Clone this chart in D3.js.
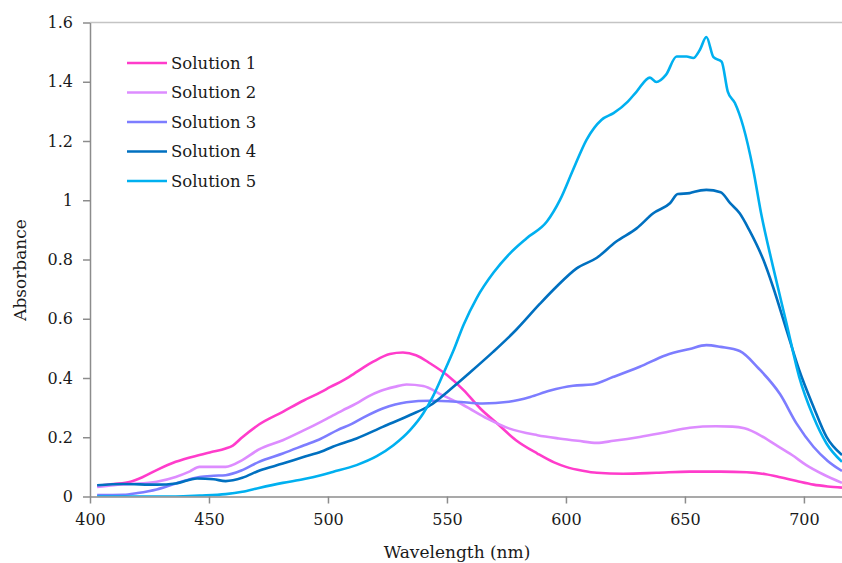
<!DOCTYPE html>
<html lang="en">
<head>
    <meta charset="UTF-8">
    <title>Absorbance spectra</title>
    <script src="https://d3js.org/d3.v7.min.js"></script>
    <style>
        body { margin: 0; background: #fff; }
        svg { display: block; font-family: "DejaVu Serif", serif; }
        .axis text { font-size: 16px; fill: #1a1a1a; font-family: "DejaVu Serif", serif; }
        .axis path, .axis line { stroke: #8c8c8c; stroke-width: 1.5px; }
        .label { font-size: 17px; fill: #1a1a1a; }
        .legend text { font-size: 16.5px; fill: #1a1a1a; }
        .series { fill: none; stroke-width: 2.6px; stroke-linejoin: round; }
    </style>
</head>
<body>
<div id="chart"></div>
<script>
    // series names and colours
    const names = ["Solution 1", "Solution 2", "Solution 3", "Solution 4", "Solution 5"];
    const colors = ["#ff3ccb", "#dd8cff", "#7d7dff", "#0070c0", "#00b0f0"];

    // wavelength (nm) / absorbance, one pair per solution
    const wl1 = [403, 410, 417, 422, 428, 436, 446, 451, 457, 460, 464, 471, 481, 490, 497, 501, 506, 511, 515, 519, 526, 531.5, 537, 543, 550, 557, 564, 571, 579, 588, 595, 600, 607, 613, 624, 638, 652, 665, 676, 684, 690, 697, 704, 710, 716];
    const abs1 = [0.036, 0.042, 0.05, 0.065, 0.089, 0.117, 0.14, 0.15, 0.162, 0.172, 0.2, 0.243, 0.286, 0.325, 0.352, 0.37, 0.39, 0.415, 0.436, 0.455, 0.481, 0.486, 0.477, 0.449, 0.41, 0.359, 0.297, 0.247, 0.19, 0.145, 0.115, 0.1, 0.087, 0.08, 0.077, 0.08, 0.084, 0.084, 0.082, 0.075, 0.065, 0.052, 0.04, 0.034, 0.03];

    const wl2 = [403, 410, 417, 428, 436, 442, 446, 452, 457, 464, 471, 481, 490, 497, 501, 506, 512, 517, 522, 528, 533, 540, 548, 557, 567, 576, 588, 597, 605, 613, 620, 631, 642, 652, 663, 670, 675, 682, 688, 695, 701, 708, 716];
    const abs2 = [0.032, 0.038, 0.042, 0.05, 0.066, 0.085, 0.1, 0.1, 0.1, 0.123, 0.159, 0.19, 0.224, 0.252, 0.269, 0.29, 0.314, 0.338, 0.356, 0.37, 0.378, 0.373, 0.342, 0.308, 0.263, 0.23, 0.207, 0.196, 0.188, 0.181, 0.188, 0.201, 0.217, 0.232, 0.237, 0.236, 0.23, 0.205, 0.175, 0.14, 0.106, 0.075, 0.046];

    const wl3 = [403, 414, 420, 428, 436, 446, 452, 457, 464, 471, 481, 490, 497, 504, 510, 515, 523, 533, 543, 554, 565, 576, 585, 593, 603, 611, 620, 631, 642, 652, 659, 665, 673, 681, 690, 697, 704, 710, 716];
    const abs3 = [0.005, 0.006, 0.012, 0.024, 0.044, 0.066, 0.07, 0.072, 0.089, 0.117, 0.145, 0.173, 0.195, 0.224, 0.245, 0.267, 0.297, 0.318, 0.323, 0.32, 0.314, 0.32, 0.336, 0.357, 0.374, 0.378, 0.404, 0.438, 0.477, 0.498, 0.511, 0.505, 0.491, 0.432, 0.345, 0.245, 0.168, 0.12, 0.086];

    const wl4 = [403, 414, 428, 436, 445, 452, 457, 464, 471, 481, 490, 497, 502, 512, 523, 534.5, 543, 551, 560, 569.5, 579, 589, 596, 604.5, 613, 621, 629.7, 636.7, 643.7, 647, 652, 654, 659, 665, 669, 673, 677, 683, 687, 692.7, 698, 704, 709.5, 716];
    const abs4 = [0.038, 0.042, 0.04, 0.044, 0.061, 0.058, 0.052, 0.063, 0.087, 0.111, 0.134, 0.151, 0.168, 0.196, 0.235, 0.275, 0.308, 0.359, 0.421, 0.489, 0.562, 0.65, 0.708, 0.77, 0.806, 0.86, 0.905, 0.956, 0.99, 1.021, 1.024, 1.029, 1.035, 1.027, 0.99, 0.956, 0.9, 0.798, 0.708, 0.562, 0.427, 0.303, 0.201, 0.14];

    const wl5 = [403, 417, 436, 446, 457, 464, 471, 481, 490, 497, 502, 512, 520.5, 527.5, 534.5, 540, 544, 548.5, 552.6, 557, 562.5, 569.5, 576.5, 583.5, 592, 597.5, 603, 608.7, 615, 620, 626, 629.7, 635.3, 638, 642, 646.5, 650.7, 653.5, 656.3, 659, 662, 665.4, 668, 671, 674.5, 678.7, 682, 687, 692.7, 698, 704, 709.5, 716];
    const abs5 = [0, 0, 0, 0.003, 0.008, 0.016, 0.029, 0.046, 0.059, 0.072, 0.083, 0.106, 0.136, 0.173, 0.224, 0.28, 0.336, 0.415, 0.49, 0.58, 0.67, 0.755, 0.821, 0.872, 0.928, 1.001, 1.103, 1.205, 1.272, 1.294, 1.333, 1.367, 1.414, 1.399, 1.423, 1.485, 1.485, 1.48, 1.508, 1.551, 1.483, 1.468, 1.367, 1.328, 1.249, 1.103, 0.956, 0.776, 0.584, 0.404, 0.269, 0.179, 0.117];

    const xTicks = [400, 450, 500, 550, 600, 650, 700];
    const yTicks = [0, 0.2, 0.4, 0.6, 0.8, 1, 1.2, 1.4, 1.6];

    const wls = [wl1, wl2, wl3, wl4, wl5];
    const absVals = [abs1, abs2, abs3, abs4, abs5];
    const series = names.map((name, i) => ({
        name: name,
        color: colors[i],
        values: wls[i].map((w, j) => ({ wl: w, a: absVals[i][j] }))
    }));

    const W = 842, H = 563;
    const svg = d3.select("#chart").append("svg")
        .attr("width", W)
        .attr("height", H);

    const x = d3.scaleLinear().domain([400, 716]).range([90, 842]);
    const y = d3.scaleLinear().domain([0, 1.6]).range([496.5, 22.5]);

    // top border of plot area
    svg.append("line")
        .attr("x1", x(400)).attr("x2", W)
        .attr("y1", y(1.6)).attr("y2", y(1.6))
        .attr("stroke", "#c4c4c4")
        .attr("stroke-width", 1.5);

    svg.append("clipPath").attr("id", "plot")
        .append("rect")
        .attr("x", x(400)).attr("y", 0)
        .attr("width", W - x(400)).attr("height", y(0));

    const line = d3.line()
        .x(d => x(d.wl))
        .y(d => y(d.a))
        .curve(d3.curveMonotoneX);

    svg.append("g").attr("clip-path", "url(#plot)")
        .selectAll("path")
        .data(series)
        .enter()
        .append("path")
        .attr("class", "series")
        .attr("stroke", d => d.color)
        .attr("d", d => line(d.values));

    // axes
    svg.append("g")
        .attr("class", "axis")
        .attr("transform", `translate(0,${y(0)})`)
        .call(d3.axisBottom(x).tickValues(xTicks).tickSize(7).tickSizeOuter(0).tickPadding(10).tickFormat(d3.format("d")));

    svg.append("g")
        .attr("class", "axis")
        .attr("transform", `translate(${x(400)},0)`)
        .call(d3.axisLeft(y).tickValues(yTicks).tickSize(7).tickSizeOuter(0).tickPadding(10).tickFormat(d => String(+d.toFixed(1))));

    // axis titles
    svg.append("text")
        .attr("class", "label")
        .attr("x", 457)
        .attr("y", 558)
        .attr("text-anchor", "middle")
        .text("Wavelength (nm)");

    svg.append("text")
        .attr("class", "label")
        .attr("transform", "translate(26,270) rotate(-90)")
        .attr("text-anchor", "middle")
        .text("Absorbance");

    // legend
    const legend = svg.append("g").attr("class", "legend");
    const item = legend.selectAll("g")
        .data(series)
        .enter()
        .append("g")
        .attr("transform", (d, i) => `translate(127,${63 + i * 29.5})`);

    item.append("line")
        .attr("x1", 0).attr("x2", 40)
        .attr("stroke", d => d.color)
        .attr("stroke-width", 2.6);

    item.append("text")
        .attr("x", 44)
        .attr("dy", "0.35em")
        .text(d => d.name);
</script>
</body>
</html>
